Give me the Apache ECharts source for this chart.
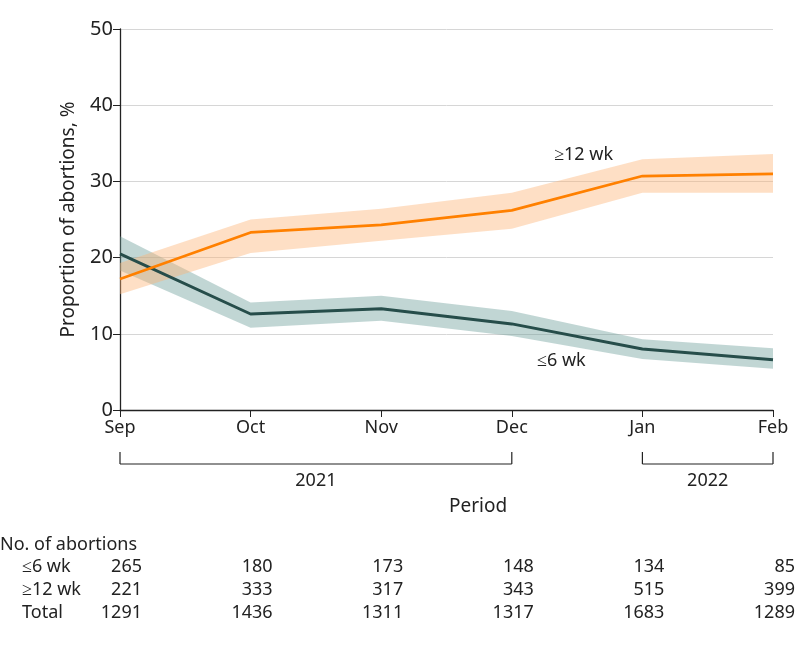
<!DOCTYPE html>
<html><head><meta charset="utf-8">
<script src="https://cdn.jsdelivr.net/npm/echarts@6/dist/echarts.min.js"></script>
<style>html,body{margin:0;padding:0;background:#fff}#c{width:798px;height:647px}</style>
</head><body><div id="c"></div>
<script>
const months = ['Sep','Oct','Nov','Dec','Jan','Feb'];
const yTicks = [0,10,20,30,40,50];
const le6Mean  = [20.5,12.6,13.3,11.3,8.0,6.6];
const le6Lower = [18.3,10.8,11.7,9.7,6.7,5.4];
const le6Upper = [22.8,14.1,15.0,13.0,9.3,8.1];
const ge12Mean  = [17.2,23.3,24.3,26.2,30.7,31.0];
const ge12Lower = [15.2,20.6,22.2,23.8,28.5,28.5];
const ge12Upper = [19.3,25.0,26.4,28.5,32.9,33.6];
const rowLabels = ['≤6 wk','≥12 wk','Total'];
const nLe6   = [265,180,173,148,134,85];
const nGe12  = [221,333,317,343,515,399];
const nTotal = [1291,1436,1311,1317,1683,1289];
const years = [{label:'2021', from:0, to:3},{label:'2022', from:4, to:5}];

const FONT = 'Noto Sans';
const chart = echarts.init(document.getElementById('c'));
const diff = (u,l) => u.map((v,i)=>+(v-l[i]).toFixed(2));
chart.setOption({
  animation:false,
  textStyle:{fontFamily:FONT},
  grid:{left:120,right:25,top:29,bottom:237},
  xAxis:{type:'category',data:months,boundaryGap:false,
    axisLine:{lineStyle:{color:'#222',width:1.3}},
    axisTick:{length:7,lineStyle:{color:'#222'}},
    axisLabel:{color:'#222',fontSize:18,margin:9,fontFamily:FONT},
    splitLine:{show:false}},
  yAxis:{type:'value',min:0,max:50,interval:10,
    name:'Proportion of abortions, %',nameLocation:'middle',nameGap:42,
    nameTextStyle:{color:'#222',fontSize:19,fontFamily:FONT},
    axisLine:{show:true,lineStyle:{color:'#222',width:1.3}},
    axisTick:{show:true,length:7,lineStyle:{color:'#222'}},
    axisLabel:{color:'#222',fontSize:20,margin:7,fontFamily:FONT},
    splitLine:{lineStyle:{color:'#d6d6d6',width:1}}},
  series:[
    {type:'line',data:le6Lower,stack:'a',symbol:'none',lineStyle:{opacity:0},silent:true},
    {type:'line',data:diff(le6Upper,le6Lower),stack:'a',symbol:'none',lineStyle:{opacity:0},
      areaStyle:{color:'rgba(108,157,153,0.6)'},silent:true},
    {type:'line',data:ge12Lower,stack:'b',symbol:'none',lineStyle:{opacity:0},silent:true},
    {type:'line',data:diff(ge12Upper,ge12Lower),stack:'b',symbol:'none',lineStyle:{opacity:0},
      areaStyle:{color:'rgba(252,178,117,0.6)'},silent:true},
    {type:'line',data:le6Mean,symbol:'none',lineStyle:{color:'#264d4a',width:3},z:5},
    {type:'line',data:ge12Mean,symbol:'none',lineStyle:{color:'#ff8000',width:2.7},z:5}
  ]
});

const px = i => chart.convertToPixel({xAxisIndex:0}, i);
const py = v => chart.convertToPixel({yAxisIndex:0}, v);
const g = [];
const txt = (x,y,t,align,size) => g.push({type:'text',x:x,y:y,style:{text:t,fill:'#222',font:(size||18)+'px "'+FONT+'"',textAlign:align||'left',textVerticalAlign:'middle'}});
const line = (x1,y1,x2,y2) => g.push({type:'line',shape:{x1:x1,y1:y1,x2:x2,y2:y2},style:{stroke:'#222',lineWidth:1.2}});

// series labels
const lerp = (a,b,t) => a+(b-a)*t;
txt(lerp(px(3),px(4),0.55), py(33.5), '≥12 wk','center',18);
txt(lerp(px(3),px(4),0.38), py(6.4), '≤6 wk','center',18);

// year brackets
const yTop = 452, yBar = 464;
years.forEach(yr=>{
  const x1 = px(yr.from), x2 = px(yr.to);
  line(x1,yTop,x1,yBar); line(x2,yTop,x2,yBar); line(x1,yBar,x2,yBar);
  txt((x1+x2)/2, 481, yr.label, 'center', 18);
});
txt(478, 507, 'Period', 'center', 19);

// table
txt(0, 545, 'No. of abortions', 'left', 18);
const rows = [nLe6, nGe12, nTotal];
const rowY = [567, 590, 613];
rows.forEach((r,ri)=>{
  txt(22, rowY[ri], rowLabels[ri], 'left', 18);
  r.forEach((v,i)=> txt(px(i)+22, rowY[ri], String(v), 'right', 18));
});
chart.setOption({graphic:g});
</script></body></html>
